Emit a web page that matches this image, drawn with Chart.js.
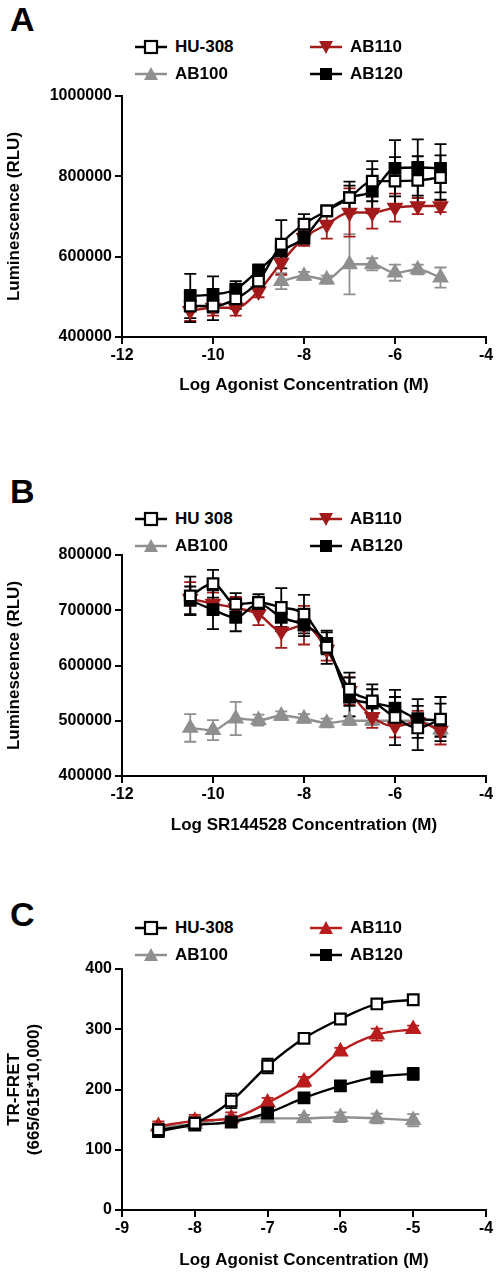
<!DOCTYPE html>
<html><head><meta charset="utf-8">
<script src="https://cdn.jsdelivr.net/npm/chart.js@4.4.1/dist/chart.umd.min.js"></script>
<style>
body{margin:0;width:498px;height:1280px;background:#fff;position:relative;font-family:"Liberation Sans",Arial,sans-serif;overflow:hidden}
.c{position:absolute;left:0;width:498px}
.letter{position:absolute;font-weight:bold;font-size:34px;left:10px}
.lg{position:absolute;font-weight:bold;font-size:17px;display:flex;align-items:center;white-space:nowrap}
.lg svg{margin-right:8px}
</style></head><body>
<div class="letter" style="top:0px">A</div>
<div class="letter" style="top:472px">B</div>
<div class="letter" style="top:895px">C</div>
<div class="c" style="top:80px;height:320px"><canvas id="cA"></canvas></div>
<div class="c" style="top:540px;height:300px"><canvas id="cB"></canvas></div>
<div class="c" style="top:950px;height:325px"><canvas id="cC"></canvas></div>
<div id="legends"></div>
<script>
// ---- Panel A ----
const xA = [-10.5,-10,-9.5,-9,-8.5,-8,-7.5,-7,-6.5,-6,-5.5,-5];
const huA   = [477000,477000,495000,539000,631000,681000,714000,747000,788000,788000,790000,797000];
const huAe  = [40000,35000,25000,20000,60000,25000,12000,40000,50000,60000,60000,55000];
const ab110A= [465000,473000,473000,514000,585000,647000,680000,710000,710000,722000,726000,726000];
const ab110Ae=[25000,20000,20000,15000,30000,20000,35000,60000,40000,35000,20000,15000];
const ab100A= [null,null,null,null,539000,552000,543000,581000,581000,560000,568000,548000];
const ab100Ae=[0,0,0,0,20000,10000,10000,75000,15000,20000,12000,25000];
const ab120A= [502000,506000,519000,566000,614000,647000,714000,747000,763000,820000,822000,820000];
const ab120Ae=[55000,45000,20000,15000,25000,15000,10000,30000,55000,70000,70000,60000];
// ---- Panel B ----
const xB = xA;
const huB   = [726000,748000,711000,714000,705000,693000,633000,557000,536000,506000,487000,503000];
const huBe  = [35000,25000,20000,15000,35000,35000,30000,30000,30000,50000,40000,40000];
const ab110B= [721000,712000,704000,693000,662000,673000,629000,554000,507000,490000,498000,482000];
const ab110Be=[30000,20000,20000,20000,30000,35000,20000,25000,20000,20000,20000,25000];
const ab100B= [487000,483000,504000,501000,509000,504000,496000,500000,500000,500000,500000,484000];
const ab100Be=[25000,18000,30000,10000,8000,8000,8000,8000,8000,8000,8000,10000];
const ab120B= [718000,701000,687000,712000,687000,673000,640000,543000,532000,523000,504000,501000];
const ab120Be=[25000,35000,25000,10000,25000,20000,20000,35000,25000,20000,35000,30000];
// ---- Panel C ----
const xC = [-8.5,-8,-7.5,-7,-6.5,-6,-5.5,-5];
const huC   = [133,144,181,239,285,317,342,349];
const huCe  = [10,10,12,12,5,5,6,5];
const ab110C= [139,148,152,178,213,263,291,300];
const ab110Ce=[8,10,10,8,8,6,10,6];
const ab100C= [138,143,152,152,152,154,152,149];
const ab100Ce=[6,5,5,6,6,8,8,10];
const ab120C= [131,141,146,161,186,206,221,226];
const ab120Ce=[10,6,8,6,6,8,6,10];
const xTicksA=[-12,-10,-8,-6,-4], xTicksC=[-9,-8,-7,-6,-5,-4];

const DARKRED='#a31a1a', RED='#b91c1c', GRAY='#8f8f8f';
const errPlugin={id:'err',beforeDatasetsDraw(ch){
  const ctx=ch.ctx,ys=ch.scales.y,xs=ch.scales.x;
  ch.data.datasets.forEach(ds=>{
    ctx.save();ctx.strokeStyle=ds.errColor;ctx.lineWidth=1.8;
    ds.data.forEach((p,i)=>{ if(p.y==null)return; const e=ds.errs[i]; if(!e)return;
      const x=xs.getPixelForValue(p.x),y1=ys.getPixelForValue(p.y+e),y2=ys.getPixelForValue(p.y-e);
      ctx.beginPath();ctx.moveTo(x,y1);ctx.lineTo(x,y2);ctx.moveTo(x-6,y1);ctx.lineTo(x+6,y1);ctx.moveTo(x-6,y2);ctx.lineTo(x+6,y2);ctx.stroke();});
    ctx.restore();});
}};
function ds(label,xs,vals,errs,color,fill,style,rot,order){
  return {label,data:xs.map((x,i)=>({x,y:vals[i]})),errs,errColor:color,borderColor:color,backgroundColor:fill,
    pointBackgroundColor:fill,pointBorderColor:color,pointStyle:style,pointRotation:rot,pointRadius:7.5,pointBorderWidth:2.2,
    borderWidth:2.4,tension:0.4,cubicInterpolationMode:'monotone',spanGaps:true,order};
}
function make(id,datasets,xmin,xmax,xticks,ymin,ymax,ystep,ytitle,xtitle,yW,xH,padTop){
  const f={family:'"Liberation Sans",Arial,sans-serif',weight:'bold',size:16};
  new Chart(document.getElementById(id),{type:'line',data:{datasets},plugins:[errPlugin],
    options:{responsive:true,maintainAspectRatio:false,animation:false,
      layout:{padding:{top:padTop,right:12,left:0,bottom:0}},
      plugins:{legend:{display:false},tooltip:{enabled:false}},
      scales:{
        x:{type:'linear',min:xmin,max:xmax,afterBuildTicks:s=>{s.ticks=xticks.map(v=>({value:v}))},
          grid:{drawOnChartArea:false,tickLength:7,tickColor:'#000',lineWidth:2},border:{color:'#000',width:2},
          ticks:{color:'#000',font:f,padding:2,maxRotation:0,callback:v=>String(v)},
          title:{display:true,text:xtitle,color:'#000',font:{...f,size:17},padding:{top:6}},
          afterFit:s=>{s.height=xH}},
        y:{min:ymin,max:ymax,ticks:{stepSize:ystep,color:'#000',font:f,padding:3,callback:v=>String(v)},
          grid:{drawOnChartArea:false,tickLength:7,tickColor:'#000',lineWidth:2},border:{color:'#000',width:2},
          title:{display:true,text:ytitle,color:'#000',font:{...f,size:17},padding:{bottom:2}},
          afterFit:s=>{s.width=yW}}}}});
}
make('cA',[ds('AB100',xA,ab100A,ab100Ae,GRAY,GRAY,'triangle',0,4),ds('AB110',xA,ab110A,ab110Ae,DARKRED,DARKRED,'triangle',180,3),
  ds('AB120',xA,ab120A,ab120Ae,'#000','#000','rect',0,2),ds('HU-308',xA,huA,huAe,'#000','#fff','rect',0,1)],
  -12,-4,xTicksA,400000,1000000,200000,'Luminescence (RLU)','Log Agonist Concentration (M)',122,63,16);
make('cB',[ds('AB100',xB,ab100B,ab100Be,GRAY,GRAY,'triangle',0,4),ds('AB110',xB,ab110B,ab110Be,DARKRED,DARKRED,'triangle',180,3),
  ds('AB120',xB,ab120B,ab120Be,'#000','#000','rect',0,2),ds('HU 308',xB,huB,huBe,'#000','#fff','rect',0,1)],
  -12,-4,xTicksA,400000,800000,100000,'Luminescence (RLU)','Log SR144528 Concentration (M)',122,64,15);
make('cC',[ds('AB100',xC,ab100C,ab100Ce,GRAY,GRAY,'triangle',0,4),ds('AB110',xC,ab110C,ab110Ce,RED,RED,'triangle',0,3),
  ds('AB120',xC,ab120C,ab120Ce,'#000','#000','rect',0,2),ds('HU-308',xC,huC,huCe,'#000','#fff','rect',0,1)],
  -9,-4,xTicksC,0,400,100,['TR-FRET','(665/615*10,000)'],'Log Agonist Concentration (M)',122,65,19);

// HTML legends
function sym(kind,color){
  let m='';
  if(kind==='open') m=`<rect x="10" y="3" width="12" height="12" fill="#fff" stroke="${color}" stroke-width="2.2"/>`;
  if(kind==='fill') m=`<rect x="10" y="3" width="12" height="12" fill="${color}"/>`;
  if(kind==='up') m=`<polygon points="16,2 23,15 9,15" fill="${color}"/>`;
  if(kind==='down') m=`<polygon points="9,3 23,3 16,16" fill="${color}"/>`;
  return `<svg width="32" height="18"><line x1="0" y1="9" x2="32" y2="9" stroke="${color}" stroke-width="2.5"/>${m}</svg>`;
}
const L=document.getElementById('legends');
function lg(x,y,kind,color,text){L.insertAdjacentHTML('beforeend',`<div class="lg" style="left:${x}px;top:${y}px">${sym(kind,color)}${text}</div>`)}
[[37,'HU-308','AB110','down',DARKRED],[509,'HU 308','AB110','down',DARKRED],[918,'HU-308','AB110','up',RED]].forEach(([y,h,a,k,c])=>{
  lg(135,y,'open','#000',h); lg(310,y,k,c,a);
  lg(135,y+27,'up',GRAY,'AB100'); lg(310,y+27,'fill','#000','AB120');
});
</script></body></html>
